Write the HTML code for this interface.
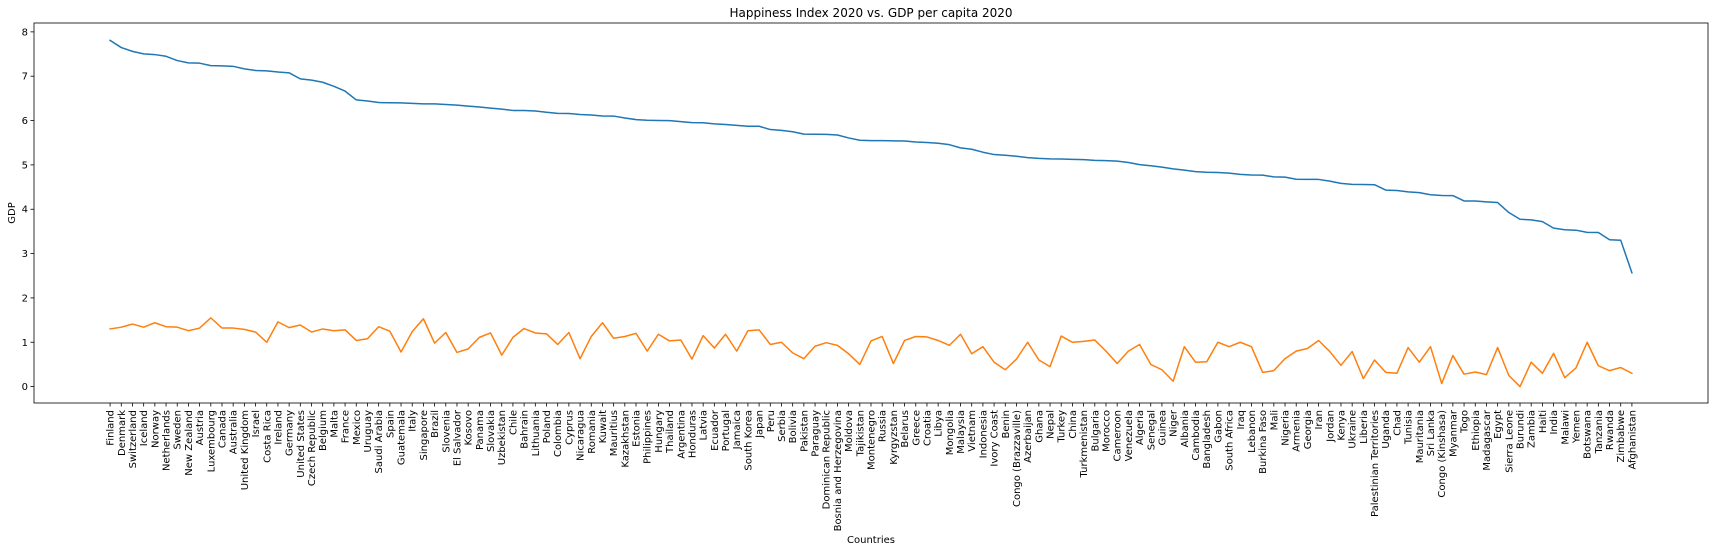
<!DOCTYPE html>
<html><head><meta charset="utf-8">
<style>
html,body{margin:0;padding:0;background:#fff;}
svg{display:block;font-family:"DejaVu Sans","Liberation Sans",sans-serif;}
</style></head>
<body>
<svg id="chart" width="1715" height="553" viewBox="0 0 1715 553" xmlns="http://www.w3.org/2000/svg">
<text x="871" y="17" font-size="12" text-anchor="middle">Happiness Index 2020 vs. GDP per capita 2020</text>
<text x="0" y="0" font-size="10" text-anchor="middle" transform="translate(15,213) rotate(-90)">GDP</text>
<text x="871" y="543" font-size="10" text-anchor="middle">Countries</text>
<g id="plot"></g>
</svg>
<script>
const countries = ["Finland","Denmark","Switzerland","Iceland","Norway","Netherlands","Sweden","New Zealand","Austria","Luxembourg","Canada","Australia","United Kingdom","Israel","Costa Rica","Ireland","Germany","United States","Czech Republic","Belgium","Malta","France","Mexico","Uruguay","Saudi Arabia","Spain","Guatemala","Italy","Singapore","Brazil","Slovenia","El Salvador","Kosovo","Panama","Slovakia","Uzbekistan","Chile","Bahrain","Lithuania","Poland","Colombia","Cyprus","Nicaragua","Romania","Kuwait","Mauritius","Kazakhstan","Estonia","Philippines","Hungary","Thailand","Argentina","Honduras","Latvia","Ecuador","Portugal","Jamaica","South Korea","Japan","Peru","Serbia","Bolivia","Pakistan","Paraguay","Dominican Republic","Bosnia and Herzegovina","Moldova","Tajikistan","Montenegro","Russia","Kyrgyzstan","Belarus","Greece","Croatia","Libya","Mongolia","Malaysia","Vietnam","Indonesia","Ivory Coast","Benin","Congo (Brazzaville)","Azerbaijan","Ghana","Nepal","Turkey","China","Turkmenistan","Bulgaria","Morocco","Cameroon","Venezuela","Algeria","Senegal","Guinea","Niger","Albania","Cambodia","Bangladesh","Gabon","South Africa","Iraq","Lebanon","Burkina Faso","Mali","Nigeria","Armenia","Georgia","Iran","Jordan","Kenya","Ukraine","Liberia","Palestinian Territories","Uganda","Chad","Tunisia","Mauritania","Sri Lanka","Congo (Kinshasa)","Myanmar","Togo","Ethiopia","Madagascar","Egypt","Sierra Leone","Burundi","Zambia","Haiti","India","Malawi","Yemen","Botswana","Tanzania","Rwanda","Zimbabwe","Afghanistan"];
const happiness = [7.809,7.646,7.560,7.504,7.488,7.449,7.353,7.300,7.294,7.238,7.232,7.223,7.165,7.129,7.121,7.094,7.076,6.940,6.911,6.864,6.773,6.664,6.465,6.440,6.406,6.401,6.399,6.387,6.377,6.376,6.363,6.348,6.325,6.305,6.281,6.258,6.228,6.227,6.215,6.186,6.163,6.159,6.137,6.124,6.102,6.101,6.058,6.022,6.006,6.000,5.999,5.975,5.953,5.950,5.925,5.911,5.890,5.872,5.871,5.797,5.778,5.747,5.693,5.692,5.689,5.674,5.608,5.556,5.546,5.546,5.542,5.540,5.515,5.505,5.489,5.456,5.384,5.353,5.286,5.233,5.216,5.194,5.165,5.148,5.137,5.132,5.124,5.119,5.102,5.095,5.085,5.053,5.005,4.981,4.949,4.910,4.883,4.848,4.833,4.829,4.814,4.785,4.772,4.769,4.729,4.724,4.677,4.673,4.672,4.633,4.583,4.561,4.558,4.553,4.432,4.423,4.392,4.375,4.327,4.311,4.308,4.187,4.186,4.166,4.151,3.926,3.775,3.759,3.721,3.573,3.538,3.527,3.479,3.476,3.312,3.299,2.567];
const gdp = [1.30,1.34,1.41,1.34,1.44,1.35,1.34,1.26,1.32,1.55,1.32,1.32,1.29,1.23,1.00,1.46,1.33,1.39,1.23,1.30,1.26,1.28,1.04,1.08,1.35,1.25,0.78,1.24,1.53,0.98,1.22,0.77,0.85,1.11,1.21,0.71,1.11,1.31,1.21,1.19,0.95,1.22,0.63,1.13,1.44,1.09,1.13,1.20,0.80,1.18,1.03,1.05,0.62,1.15,0.87,1.18,0.80,1.26,1.28,0.95,1.00,0.76,0.63,0.91,0.99,0.93,0.74,0.50,1.03,1.13,0.52,1.04,1.13,1.12,1.04,0.93,1.18,0.74,0.90,0.55,0.38,0.62,1.00,0.60,0.45,1.14,1.00,1.02,1.05,0.80,0.52,0.80,0.95,0.50,0.38,0.12,0.90,0.55,0.56,1.00,0.90,1.00,0.90,0.32,0.36,0.63,0.80,0.86,1.04,0.79,0.48,0.79,0.18,0.60,0.32,0.30,0.88,0.55,0.90,0.07,0.70,0.28,0.33,0.27,0.88,0.25,0.00,0.55,0.30,0.75,0.20,0.42,1.00,0.47,0.36,0.43,0.30];
const yTicks = [0,1,2,3,4,5,6,7,8];

const NS = "http://www.w3.org/2000/svg";
const plot = document.getElementById('plot');
const L = 34, R = 1708, T = 23, B = 403;
const n = countries.length;
const xMin = -0.05*(n-1), xMax = (n-1)*1.05;
const yMin = -0.37, yMax = 8.2;
const xs = i => L + (i - xMin) / (xMax - xMin) * (R - L);
const ys = v => B - (v - yMin) / (yMax - yMin) * (B - T);
function mk(tag, attrs){ const e=document.createElementNS(NS,tag); for(const k in attrs) e.setAttribute(k,attrs[k]); return e; }

function drawLine(vals, color, name){
  const p = mk('path', {d: vals.map((v,i)=>(i?'L':'M')+xs(i).toFixed(2)+' '+ys(v).toFixed(2)).join(' '), fill:'none', stroke:color, 'stroke-width':1.5, 'stroke-linejoin':'round', 'stroke-linecap':'square'});
  
  
  plot.appendChild(p);
}
drawLine(happiness, '#1f77b4', 'happiness-line');
drawLine(gdp, '#ff7f0e', 'gdp-line');

const frame = mk('rect', {x:L, y:T, width:R-L, height:B-T, fill:'none', stroke:'#000', 'stroke-width':0.8});


plot.appendChild(frame);

yTicks.forEach(t=>{
  const y = ys(t);
  const tk = mk('line', {x1:L-3.5, x2:L, y1:y, y2:y, stroke:'#000', 'stroke-width':0.8});
  
  
  plot.appendChild(tk);
  const tx = mk('text', {x:L-6, y:y+3.5, 'font-size':10, 'text-anchor':'end'});
  tx.textContent = t;
  
  
  plot.appendChild(tx);
});

countries.forEach((c,i)=>{
  const x = xs(i);
  const tk = mk('line', {x1:x, x2:x, y1:B, y2:B+3.5, stroke:'#000', 'stroke-width':0.8});
  
  
  plot.appendChild(tk);
  const tx = mk('text', {x:0, y:0, 'font-size':10, 'text-anchor':'end', transform:'translate('+(x+3.5).toFixed(2)+','+(B+7)+') rotate(-90)'});
  tx.textContent = c;
  
  
  plot.appendChild(tx);
});
</script>
</body></html>
